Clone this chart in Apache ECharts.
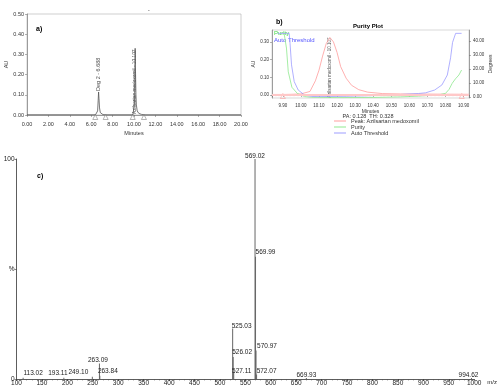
<!DOCTYPE html>
<html><head><meta charset="utf-8">
<script src="https://cdn.jsdelivr.net/npm/echarts@6/dist/echarts.min.js"></script>
<style>html,body{margin:0;padding:0;background:#fff}#c{width:500px;height:387px}</style>
</head><body><div id="c"></div>
<script>
// ---------- Panel a: chromatogram ----------
const aTime = [0, 6.40, 6.55, 6.60, 6.65, 6.69, 6.73, 6.78, 6.85, 6.95, 7.10, 7.35, 9.90, 10.00, 10.05, 10.08, 10.107, 10.14, 10.18, 10.22, 10.30, 10.45, 10.70, 10.93, 20];
const aAU   = [0.001, 0.001, 0.003, 0.02, 0.07, 0.114, 0.08, 0.035, 0.012, 0.004, 0.002, 0.001, 0.001, 0.005, 0.06, 0.20, 0.33, 0.22, 0.10, 0.05, 0.02, 0.008, 0.003, 0.001, 0.001];
const aMarkerTimes = [6.38, 7.35, 9.88, 10.93];
const aPeakNames = ['Deg 2 - 6.688', 'Azilsartan medoxomil - 10.107'];
const aPeakTimes = [6.688, 10.107];
const aPeakLabelAU = [0.114, 0.0];

// ---------- Panel b: purity plot ----------
const bRedTime = [9.84, 9.90, 9.95, 10.00, 10.05, 10.08, 10.10, 10.12, 10.14, 10.16, 10.18, 10.20, 10.22, 10.25, 10.28, 10.32, 10.37, 10.45, 10.55, 10.70, 10.93];
const bRedAU   = [0.003, 0.003, 0.004, 0.006, 0.02, 0.08, 0.14, 0.22, 0.29, 0.325, 0.30, 0.24, 0.16, 0.095, 0.055, 0.03, 0.016, 0.008, 0.006, 0.005, 0.004];
const bPurTime = [9.905, 9.915, 9.92, 9.93, 9.95, 9.98, 10.02, 10.06, 10.20, 10.40, 10.55, 10.65, 10.72, 10.77, 10.80, 10.82, 10.837, 10.855, 10.874, 10.889];
const bPurDeg  = [47, 46, 35, 18, 7, 2.6, 0.3, -0.2, -0.4, -0.3, 0.1, 0.6, 1.2, 1.8, 2.6, 5.5, 9.8, 13, 15.7, 19.3];
const bThrTime = [9.87, 9.935, 9.94, 9.948, 9.963, 9.985, 10.02, 10.06, 10.10, 10.25, 10.40, 10.55, 10.65, 10.69, 10.74, 10.78, 10.81, 10.828, 10.839, 10.856, 10.889];
const bThrDeg  = [45.5, 45.5, 38, 23, 11, 5, 1.4, 0.4, 0.3, 0.5, 1.0, 1.8, 2.5, 3.0, 5.0, 8.6, 15.7, 28, 39, 45.5, 45.5];
const bMarkerTimes = [9.90, 10.89];
const bPeakName = 'Azilsartan medoxomil - 10.107';
const bPeakTime = 10.16;
const bLegendNames = ['Peak: Azilsartan medoxomil', 'Purity', 'Auto Threshold'];
const bInfo = 'PA: 0.128  TH: 0.328';

// ---------- Panel c: mass spectrum ----------
const cMZ        = [113.02, 193.11, 249.10, 263.09, 263.84, 525.03, 526.02, 527.11, 569.02, 569.99, 570.97, 572.07, 669.93, 994.62];
const cIntensity = [0.6, 0.6, 1.0, 7.1, 1.5, 23, 10, 3, 100, 55.6, 13, 2.0, 0.4, 0.4];

// label nudges (style only)
const cLabelNudge = [[10,0],[-6,0],[-14,0],[-1.5,1],[8,0],[9,2],[9,0],[8,3],[0,2],[10,0],[11,0],[10,1],[0,2],[-3,2]];

const F = '"Liberation Sans", Arial, sans-serif';
const fmt2 = v => v.toFixed(2);
const pair = (xs, ys) => xs.map((x, i) => [x, ys[i]]);

const chart = echarts.init(document.getElementById('c'));
const axLab = {fontSize: 5.5, color: '#333', fontFamily: F};
const axLine = {lineStyle: {color: '#666', width: 0.6}};

chart.setOption({
  animation: false,
  textStyle: {fontFamily: F},
  grid: [
    {left: 27, top: 14, width: 214, height: 101, show: true, borderColor: '#b0b0b0', borderWidth: 0.6},
    {left: 272, top: 30, width: 197, height: 68, show: true, borderColor: '#c0c0c0', borderWidth: 0.6},
    {left: 16.5, top: 159, width: 467.5, height: 220}
  ],
  xAxis: [
    {gridIndex: 0, type: 'value', min: 0, max: 20, interval: 2,
     axisLabel: Object.assign({formatter: fmt2, margin: 6}, axLab), axisLine: axLine,
     axisTick: {length: 2, lineStyle: {color: '#666', width: 0.5}}, splitLine: {show: false},
     name: 'Minutes', nameLocation: 'middle', nameGap: 15, nameTextStyle: {fontSize: 5.5, color: '#333'}},
    {gridIndex: 1, type: 'value', min: 9.84, max: 10.93, splitNumber: 11,
     axisLabel: Object.assign({formatter: fmt2, margin: 5, showMinLabel: false, showMaxLabel: false}, axLab, {fontSize: 4.5}),
     axisLine: axLine, axisTick: {length: 2, lineStyle: {color: '#666', width: 0.5}},
     minorTick: {show: true, splitNumber: 5, length: 1.2, lineStyle: {color: '#888', width: 0.4}},
     splitLine: {show: false},
     name: 'Minutes', nameLocation: 'middle', nameGap: 10, nameTextStyle: {fontSize: 5, color: '#333'}},
    {gridIndex: 2, type: 'value', min: 100, max: 1000, interval: 50,
     axisLabel: {formatter: v => String(v), fontSize: 6.5, color: '#222', margin: 1},
     axisLine: {lineStyle: {color: '#333', width: 0.8}},
     axisTick: {length: 2, lineStyle: {color: '#333', width: 0.6}},
     minorTick: {show: true, splitNumber: 5, length: 1.5, lineStyle: {color: '#555', width: 0.5}},
     splitLine: {show: false},
     name: 'm/z', nameLocation: 'end', nameGap: 3, nameTextStyle: {fontSize: 6, color: '#222', verticalAlign: 'top', padding: [0, 0, 0, 0]}}
  ],
  yAxis: [
    {gridIndex: 0, type: 'value', min: 0, max: 0.5, interval: 0.1,
     axisLabel: Object.assign({formatter: fmt2, margin: 3}, axLab), axisLine: Object.assign({show: true}, axLine),
     axisTick: {show: true, length: 2, lineStyle: {color: '#666', width: 0.5}}, splitLine: {show: false},
     name: 'AU', nameLocation: 'middle', nameGap: 14, nameRotate: 90, nameTextStyle: {fontSize: 5.5, color: '#333'}},
    {gridIndex: 1, type: 'value', min: -0.017, max: 0.367, splitNumber: 4,
     axisLabel: Object.assign({formatter: fmt2, margin: 3, showMinLabel: false, showMaxLabel: false}, axLab, {fontSize: 4.5}),
     axisLine: Object.assign({show: true}, axLine),
     axisTick: {show: true, length: 2, lineStyle: {color: '#666', width: 0.5}}, splitLine: {show: false},
     name: 'AU', nameLocation: 'middle', nameGap: 12, nameRotate: 90, nameTextStyle: {fontSize: 5, color: '#333'}},
    {gridIndex: 1, type: 'value', position: 'right', min: -0.7, max: 47.9, splitNumber: 5,
     axisLabel: Object.assign({formatter: fmt2, margin: 4, showMinLabel: false, showMaxLabel: false}, axLab, {fontSize: 4.5}),
     axisLine: Object.assign({show: true}, axLine),
     axisTick: {show: true, length: 2, lineStyle: {color: '#666', width: 0.5}}, splitLine: {show: false},
     name: 'Degrees', nameLocation: 'middle', nameGap: 16, nameRotate: 90, nameTextStyle: {fontSize: 5, color: '#333'}},
    {gridIndex: 2, type: 'value', min: 0, max: 100, interval: 50,
     axisLabel: {formatter: v => (v === 50 ? '%' : String(v)), fontSize: 6.5, color: '#222', margin: 2},
     axisLine: {show: true, lineStyle: {color: '#333', width: 0.8}},
     axisTick: {show: true, length: 2, lineStyle: {color: '#333', width: 0.6}}, splitLine: {show: false}}
  ],
  legend: {
    data: bLegendNames, orient: 'vertical', left: 334, top: 118, itemWidth: 12, itemHeight: 1, itemGap: 0,
    icon: 'rect', textStyle: {fontSize: 5.5, color: '#333', lineHeight: 6, padding: [0, 0, 0, 0]}, padding: 0
  },
  graphic: [
    {type: 'text', x: 36, y: 26, style: {text: 'a)', fontSize: 7, fontWeight: 'bold', fill: '#000', fontFamily: F}},
    {type: 'text', x: 148, y: 8, style: {text: '-', fontSize: 5, fill: '#333', fontFamily: F}},
    {type: 'text', x: 276, y: 19, style: {text: 'b)', fontSize: 7, fontWeight: 'bold', fill: '#000', fontFamily: F}},
    {type: 'text', x: 368, y: 23, style: {text: 'Purity Plot', fontSize: 6, fontWeight: 'bold', fill: '#000', fontFamily: F, align: 'center', textAlign: 'center'}},
    {type: 'text', x: 274, y: 30, style: {text: 'Purity', fontSize: 6, fill: '#44dd44', fontFamily: F}},
    {type: 'text', x: 274, y: 37, style: {text: 'Auto Threshold', fontSize: 6, fill: '#5555ff', fontFamily: F}},
    {type: 'text', x: 368, y: 113, style: {text: bInfo, fontSize: 5.5, fill: '#333', fontFamily: F, align: 'center', textAlign: 'center'}},
    {type: 'text', x: 37, y: 173, style: {text: 'c)', fontSize: 7, fontWeight: 'bold', fill: '#000', fontFamily: F}}
  ],
  series: [
    {type: 'line', name: 'chrom', xAxisIndex: 0, yAxisIndex: 0, data: pair(aTime, aAU), symbol: 'none',
     lineStyle: {color: '#555', width: 0.8}},
    {type: 'scatter', name: 'amarks', xAxisIndex: 0, yAxisIndex: 0, data: aMarkerTimes.map(t => [t, 0]),
     symbol: 'triangle', symbolSize: 5, symbolOffset: [0, 2], itemStyle: {color: '#fff', borderColor: '#666', borderWidth: 0.6}},
    {type: 'scatter', name: 'alabels', xAxisIndex: 0, yAxisIndex: 0, symbolSize: 0,
     data: aPeakTimes.map((t, i) => ({value: [t, aPeakLabelAU[i]], label: {formatter: aPeakNames[i], fontSize: i === 0 ? 5.5 : 4.8}})),
     label: {show: true, position: 'top', distance: 1, rotate: 90, align: 'left', verticalAlign: 'middle', fontSize: 5.5, color: '#222'}},
    {type: 'line', name: bLegendNames[0], xAxisIndex: 1, yAxisIndex: 1, data: pair(bRedTime, bRedAU), symbol: 'none',
     color: '#ff9c9c', lineStyle: {color: '#ff9c9c', width: 0.8},
     markLine: {silent: true, symbol: 'none', label: {show: false}, lineStyle: {color: '#ffc8c8', width: 2.2, type: 'solid'}, data: [{yAxis: 0.001}]}},
    {type: 'line', name: bLegendNames[1], xAxisIndex: 1, yAxisIndex: 2, data: pair(bPurTime, bPurDeg), symbol: 'none',
     color: '#8ee88e', lineStyle: {color: '#8ee88e', width: 0.8}},
    {type: 'line', name: bLegendNames[2], xAxisIndex: 1, yAxisIndex: 2, data: pair(bThrTime, bThrDeg), symbol: 'none',
     color: '#9c9cff', lineStyle: {color: '#9c9cff', width: 0.8}},
    {type: 'scatter', name: 'bmarks', xAxisIndex: 1, yAxisIndex: 1, data: bMarkerTimes.map(t => [t, 0]),
     symbol: 'triangle', symbolSize: 5, symbolOffset: [0, 1], itemStyle: {color: 'rgba(255,255,255,0)', borderColor: '#ff8888', borderWidth: 0.6}},
    {type: 'scatter', name: 'blabel', xAxisIndex: 1, yAxisIndex: 1, symbolSize: 0,
     data: [{value: [bPeakTime, -0.017], label: {formatter: bPeakName}}],
     label: {show: true, position: 'top', distance: 0, rotate: 90, align: 'left', verticalAlign: 'middle', fontSize: 4.5, color: '#222'}},
    {type: 'bar', name: 'ms', xAxisIndex: 2, yAxisIndex: 3, barWidth: 1,
     data: cMZ.map((m, i) => ({value: [m, cIntensity[i]],
       label: {offset: cLabelNudge[i]}})),
     itemStyle: {color: '#666'},
     label: {show: true, position: 'top', distance: 1, fontSize: 6.5, color: '#222', formatter: p => p.value[0].toFixed(2)}}
  ]
});
</script></body></html>
